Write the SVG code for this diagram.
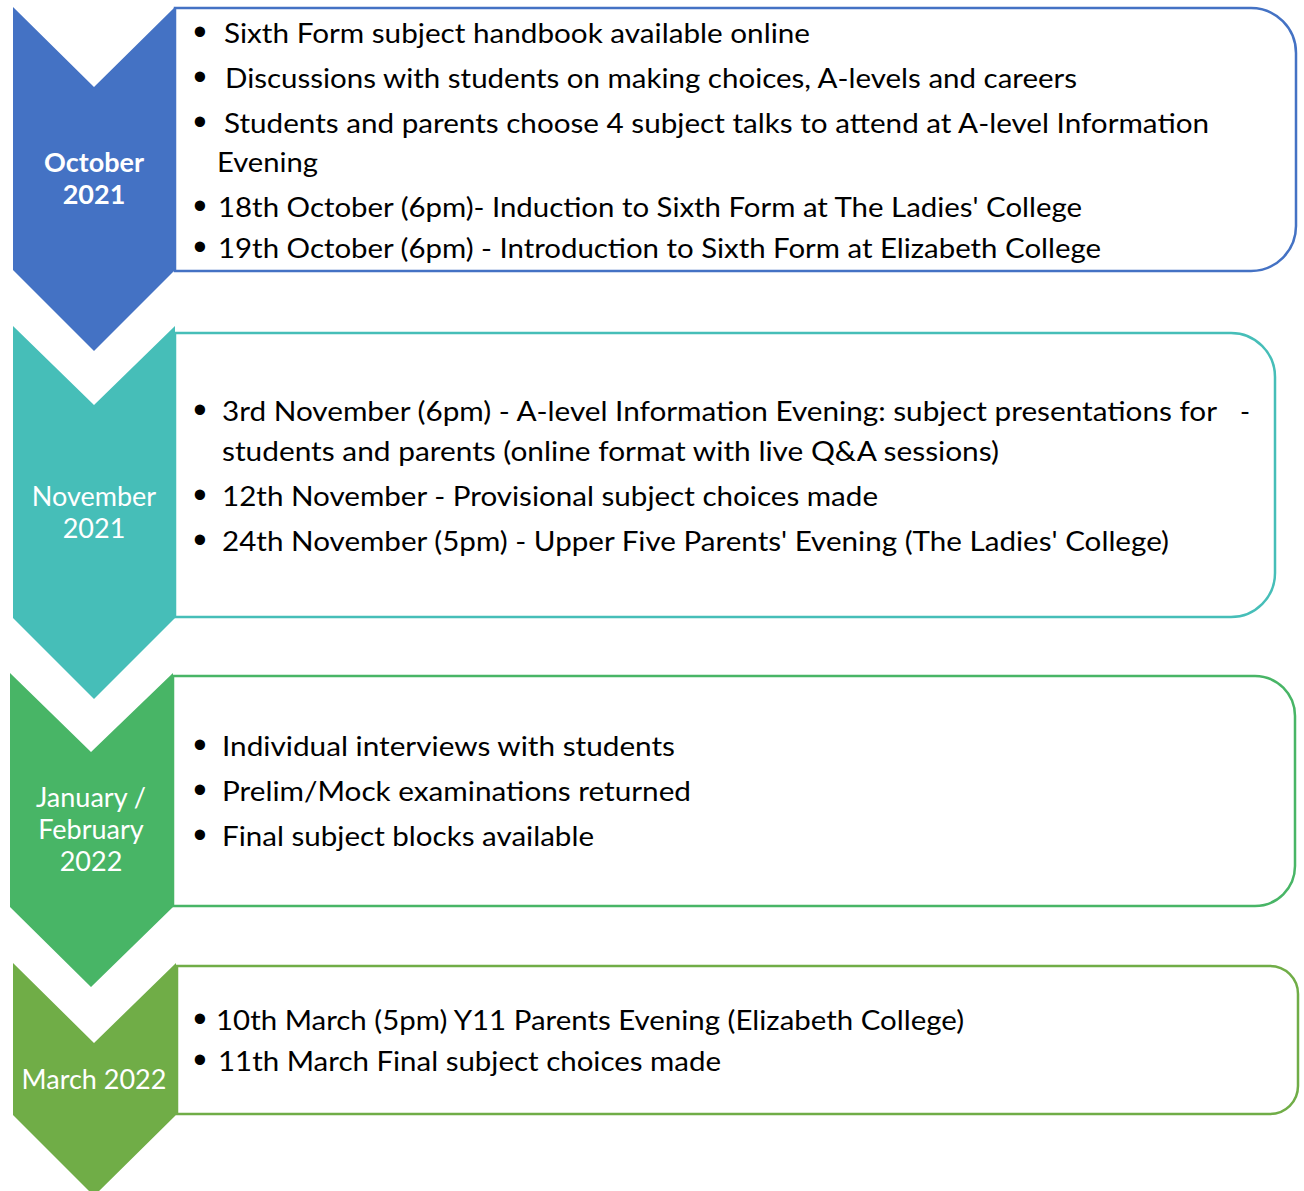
<svg xmlns="http://www.w3.org/2000/svg" width="1304" height="1191" viewBox="0 0 1304 1191">
<style>
.box{fill:#fff;stroke-width:2.5}
.t{font-family:Lato,"Liberation Sans",sans-serif;font-size:27px;fill:#000}
.b{font-family:"Liberation Sans",sans-serif;font-size:38px;fill:#000;text-anchor:middle}
.lab{font-family:Lato,"Liberation Sans",sans-serif;font-size:27px;fill:#fff;text-anchor:middle}
</style>
<rect width="1304" height="1191" fill="#fff"/>
<g id="stage-october">
<polygon points="13,7 94,87 175,7 175,270 94,351 13,270" fill="#4472C4"/>
<path class="box" stroke="#4472C4" d="M175,8 H1251 A45,45 0 0 1 1296,53 V226 A45,45 0 0 1 1251,271 H175 Z"/>
<text class="lab" x="94" y="172" font-weight="bold">October</text>
<text class="lab" x="94" y="204" font-weight="bold">2021</text>
<text class="b" x="200" y="45">•</text>
<text class="t" x="224" y="43" textLength="586" lengthAdjust="spacingAndGlyphs">Sixth Form subject handbook available online</text>
<text class="b" x="200" y="90">•</text>
<text class="t" x="225" y="88" textLength="852" lengthAdjust="spacingAndGlyphs">Discussions with students on making choices, A-levels and careers</text>
<text class="b" x="200" y="135">•</text>
<text class="t" x="224" y="133" textLength="985" lengthAdjust="spacingAndGlyphs">Students and parents choose 4 subject talks to attend at A-level Information</text>
<text class="t" x="217" y="172" textLength="101" lengthAdjust="spacingAndGlyphs">Evening</text>
<text class="b" x="200" y="219">•</text>
<text class="t" x="218" y="217" textLength="864" lengthAdjust="spacingAndGlyphs">18th October (6pm)- Induction to Sixth Form at The Ladies' College</text>
<text class="b" x="200" y="260">•</text>
<text class="t" x="218" y="258" textLength="883" lengthAdjust="spacingAndGlyphs">19th October (6pm) - Introduction to Sixth Form at Elizabeth College</text>
</g>
<g id="stage-november">
<polygon points="13,326 94,405 175,326 175,618 94,699 13,618" fill="#46BEB8"/>
<path class="box" stroke="#46BEB8" d="M175,333 H1231 A44,44 0 0 1 1275,377 V573 A44,44 0 0 1 1231,617 H175 Z"/>
<text class="lab" x="94" y="506">November</text>
<text class="lab" x="94" y="538">2021</text>
<text class="b" x="200" y="423">•</text>
<text class="t" x="222" y="421" textLength="995" lengthAdjust="spacingAndGlyphs">3rd November (6pm) - A-level Information Evening: subject presentations for</text>
<text class="t" x="1240" y="421">-</text>
<text class="t" x="222" y="461" textLength="777" lengthAdjust="spacingAndGlyphs">students and parents (online format with live Q&amp;A sessions)</text>
<text class="b" x="200" y="508">•</text>
<text class="t" x="222" y="506" textLength="656" lengthAdjust="spacingAndGlyphs">12th November - Provisional subject choices made</text>
<text class="b" x="200" y="553">•</text>
<text class="t" x="222" y="551" textLength="947" lengthAdjust="spacingAndGlyphs">24th November (5pm) - Upper Five Parents' Evening (The Ladies' College)</text>
</g>
<g id="stage-janfeb">
<polygon points="10,673 91,752 173,673 173,907 91,987 10,907" fill="#48B566"/>
<path class="box" stroke="#48B566" d="M173,676 H1255 A40,40 0 0 1 1295,716 V866 A40,40 0 0 1 1255,906 H173 Z"/>
<text class="lab" x="91" y="807">January /</text>
<text class="lab" x="91" y="839">February</text>
<text class="lab" x="91" y="871">2022</text>
<text class="b" x="200" y="758">•</text>
<text class="t" x="222" y="756" textLength="453" lengthAdjust="spacingAndGlyphs">Individual interviews with students</text>
<text class="b" x="200" y="803">•</text>
<text class="t" x="222" y="801" textLength="469" lengthAdjust="spacingAndGlyphs">Prelim/Mock examinations returned</text>
<text class="b" x="200" y="848">•</text>
<text class="t" x="222" y="846" textLength="372" lengthAdjust="spacingAndGlyphs">Final subject blocks available</text>
</g>
<g id="stage-march">
<polygon points="13,963 94,1043 176,963 176,1115 94,1196 13,1115" fill="#70AD47"/>
<path class="box" stroke="#70AD47" d="M177,966 H1270 A28,28 0 0 1 1298,994 V1086 A28,28 0 0 1 1270,1114 H177 Z"/>
<text class="lab" x="94" y="1089">March 2022</text>
<text class="b" x="200" y="1032">•</text>
<text class="t" x="216" y="1030" textLength="748" lengthAdjust="spacingAndGlyphs">10th March (5pm) Y11 Parents Evening (Elizabeth College)</text>
<text class="b" x="200" y="1073">•</text>
<text class="t" x="218" y="1071" textLength="503" lengthAdjust="spacingAndGlyphs">11th March Final subject choices made</text>
</g>
<g id="connectors"></g>
</svg>
